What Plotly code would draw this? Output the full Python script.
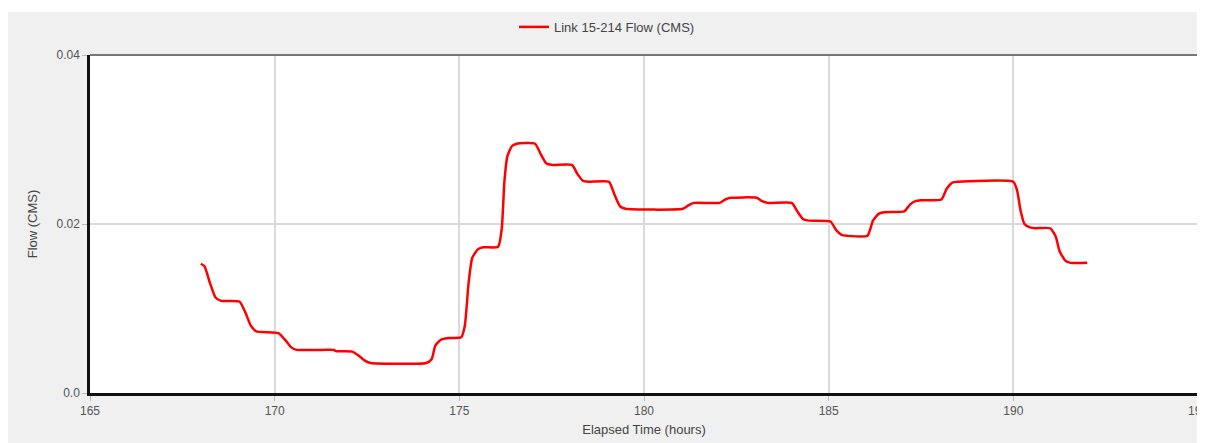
import plotly.graph_objects as go

# Elapsed time (hours) and flow (CMS)
time_hours = [
    168.0, 168.1, 168.25, 168.4, 168.55, 169.05, 169.2, 169.35, 169.5,
    170.1, 170.3, 170.45, 170.6, 171.6, 171.65, 172.1, 172.25, 172.45, 172.6,
    174.1, 174.25, 174.35, 174.5, 174.7, 175.05, 175.15, 175.25, 175.35, 175.5,
    175.65, 176.05, 176.15, 176.22, 176.3, 176.42, 176.55, 177.05, 177.2, 177.35,
    177.5, 178.05, 178.2, 178.35, 178.5, 179.05, 179.2, 179.35, 179.5, 181.05,
    181.2, 181.35, 182.05, 182.2, 182.35, 183.05, 183.2, 183.35, 184.0, 184.15,
    184.3, 184.45, 185.05, 185.2, 185.35, 185.5, 186.05, 186.2, 186.35, 186.5,
    187.05, 187.2, 187.35, 187.5, 188.05, 188.2, 188.35, 188.5, 190.0, 190.1,
    190.2, 190.3, 190.45, 190.6, 191.0, 191.15, 191.25, 191.4, 191.55, 192.0,
]
flow_cms = [
    0.01530, 0.01500, 0.01300, 0.01130, 0.01090, 0.01080, 0.00960, 0.00800, 0.00730,
    0.00710, 0.00620, 0.00540, 0.00510, 0.00510, 0.00495, 0.00490, 0.00450, 0.00380, 0.00355,
    0.00355, 0.00400, 0.00560, 0.00630, 0.00650, 0.00660, 0.00800, 0.01300, 0.01600, 0.01700,
    0.01725, 0.01730, 0.01950, 0.02500, 0.02800, 0.02920, 0.02950, 0.02950, 0.02830, 0.02720,
    0.02700, 0.02700, 0.02590, 0.02510, 0.02500, 0.02500, 0.02350, 0.02210, 0.02180, 0.02180,
    0.02220, 0.02250, 0.02250, 0.02290, 0.02310, 0.02310, 0.02270, 0.02250, 0.02250, 0.02150,
    0.02060, 0.02040, 0.02030, 0.01930, 0.01870, 0.01860, 0.01860, 0.02040, 0.02120, 0.02140,
    0.02150, 0.02230, 0.02270, 0.02280, 0.02290, 0.02420, 0.02490, 0.02500, 0.02500, 0.02400,
    0.02150, 0.02000, 0.01960, 0.01950, 0.01950, 0.01850, 0.01680, 0.01570, 0.01540, 0.01540,
]

x_ticks = [165, 170, 175, 180, 185, 190, 195]
y_ticks = [0.0, 0.02, 0.04]
y_tick_labels = ["0.0", "0.02", "0.04"]
series_name = "Link 15-214 Flow (CMS)"

fig = go.Figure()
fig.add_trace(go.Scatter(
    x=time_hours, y=flow_cms, mode="lines", name=series_name,
    line=dict(color="#ff0000", width=2.5, shape="spline", smoothing=0.5),
))

font = "Liberation Sans, Arial, sans-serif"
fig.update_layout(
    width=1197, height=435,
    margin=dict(l=82, r=7, t=47, b=50, autoexpand=False),
    paper_bgcolor="#f0f0f0",
    plot_bgcolor="#ffffff",
    font=dict(family=font, size=12, color="#555555"),
    showlegend=True,
    legend=dict(orientation="h", x=0.4666, xanchor="center", y=1.083, yanchor="middle",
                bgcolor="rgba(0,0,0,0)", font=dict(size=13, color="#444444")),
    xaxis=dict(
        range=[165, 195], tickvals=x_ticks, ticks="outside", ticklen=5, tickcolor="#bbbbbb",
        showgrid=True, gridcolor="#d9d9d9", gridwidth=1.5, zeroline=False,
        showline=True, linecolor="#111111", linewidth=2.5, ticklabeloverflow="allow",
        tickfont=dict(size=12, color="#555555"),
        title=dict(text="Elapsed Time (hours)", font=dict(size=13, color="#444444"), standoff=8),
    ),
    yaxis=dict(
        range=[0, 0.04], tickvals=y_ticks, ticktext=y_tick_labels, ticks="outside", ticklen=5,
        tickcolor="#bbbbbb", showgrid=True, gridcolor="#d9d9d9", gridwidth=1.5, zeroline=False,
        showline=True, linecolor="#111111", linewidth=2.5, ticklabeloverflow="allow",
        tickfont=dict(size=12, color="#555555"),
        title=dict(text="Flow (CMS)", font=dict(size=13, color="#444444"), standoff=16),
    ),
    shapes=[
        dict(type="line", xref="paper", yref="paper", x0=0, x1=1, y0=1, y1=1,
             line=dict(color="#777777", width=2)),
        dict(type="line", xref="paper", yref="paper", x0=1, x1=1, y0=0, y1=1,
             line=dict(color="#555555", width=2)),
        dict(type="rect", xref="paper", yref="paper", x0=-0.08, x1=1.01,
             y0=1 + 43 / 338, y1=1 + 48 / 338, fillcolor="#ffffff", line=dict(width=0), layer="below"),
    ],
)

fig.write_html("out.html")
